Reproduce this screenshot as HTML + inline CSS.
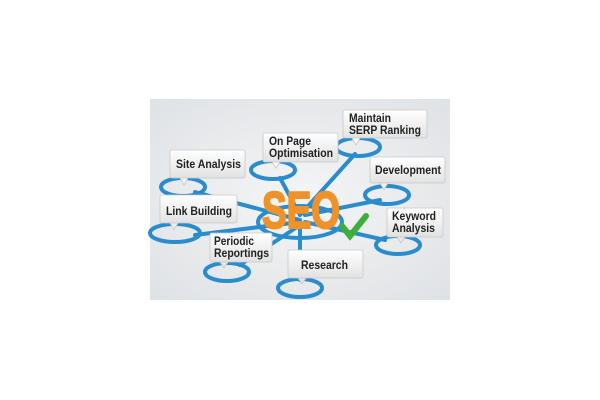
<!DOCTYPE html><html><head><style>body{margin:0;background:#fff}svg{display:block}</style></head><body>
<svg width="600" height="400" viewBox="0 0 600 400" xmlns="http://www.w3.org/2000/svg">
<defs><radialGradient id="bg" cx="0.5" cy="0.5" r="0.7"><stop offset="0" stop-color="#f4f5f6"/><stop offset="1" stop-color="#dfe2e5"/></radialGradient>
<linearGradient id="bx" x1="0" y1="0" x2="0" y2="1"><stop offset="0" stop-color="#ffffff"/><stop offset="1" stop-color="#e2e2e2"/></linearGradient></defs>
<rect x="150" y="99" width="300" height="201" fill="url(#bg)"/>
<g stroke="#2a8ccc" stroke-width="4" fill="none" stroke-linecap="round">
<path d="M300 220 L195 192"/><path d="M300 222 L195 235"/><path d="M300 225 L240 265"/><path d="M300 225 L300 280"/>
<path d="M300 215 L280 178"/><path d="M300 215 L355 154"/><path d="M305 215 L380 200"/><path d="M305 222 L385 240"/>
<ellipse cx="300" cy="222" rx="42" ry="16"/>
<ellipse cx="183" cy="187" rx="22" ry="9"/><ellipse cx="175" cy="233" rx="25" ry="9"/><ellipse cx="227" cy="272" rx="22" ry="9"/>
<ellipse cx="300" cy="288" rx="22" ry="9"/><ellipse cx="273" cy="170" rx="22" ry="9"/><ellipse cx="358" cy="147" rx="22" ry="9"/>
<ellipse cx="387" cy="195" rx="22" ry="9"/><ellipse cx="398" cy="245" rx="22" ry="9"/></g>
<text x="262" y="228" font-family="Liberation Sans, sans-serif" font-weight="bold" font-size="52" fill="#f0922a" stroke="#f0922a" stroke-width="2" textLength="78" lengthAdjust="spacingAndGlyphs">SEO</text>
<path d="M342 226 L350 236 L366 216" stroke="#3cae3c" stroke-width="6" fill="none" stroke-linecap="round"/>
<g fill="url(#bx)" stroke="#c8c8c8" stroke-width="0.8">
<rect x="343" y="110" width="84" height="28" rx="2"/><rect x="263" y="133" width="75" height="29" rx="2"/>
<rect x="170" y="150" width="75" height="28" rx="2"/><rect x="370" y="157" width="75" height="26" rx="2"/>
<rect x="160" y="195" width="77" height="28" rx="2"/><rect x="387" y="208" width="56" height="29" rx="2"/>
<rect x="210" y="233" width="62" height="29" rx="2"/><rect x="288" y="250" width="75" height="28" rx="2"/>
<path d="M352 138 L356 145 L360 138Z M272 162 L276 168 L280 162Z M180 178 L184 185 L188 178Z M380 183 L384 190 L388 183Z M170 223 L174 230 L178 223Z M397 237 L401 243 L405 237Z M220 262 L224 268 L228 262Z M298 278 L302 284 L306 278Z"/></g>
<g font-family="Liberation Sans, sans-serif" font-weight="bold" font-size="12" fill="#222" lengthAdjust="spacingAndGlyphs">
<text x="349" y="122" textLength="42" lengthAdjust="spacingAndGlyphs">Maintain</text><text x="349" y="134" textLength="72" lengthAdjust="spacingAndGlyphs">SERP Ranking</text>
<text x="269" y="145" textLength="42" lengthAdjust="spacingAndGlyphs">On Page</text><text x="269" y="157" textLength="64" lengthAdjust="spacingAndGlyphs">Optimisation</text>
<text x="176" y="168" textLength="65" lengthAdjust="spacingAndGlyphs">Site Analysis</text><text x="375" y="174" textLength="66" lengthAdjust="spacingAndGlyphs">Development</text>
<text x="166" y="215" textLength="66" lengthAdjust="spacingAndGlyphs">Link Building</text>
<text x="392" y="220" textLength="44" lengthAdjust="spacingAndGlyphs">Keyword</text><text x="392" y="232" textLength="43" lengthAdjust="spacingAndGlyphs">Analysis</text>
<text x="214" y="245" textLength="40" lengthAdjust="spacingAndGlyphs">Periodic</text><text x="214" y="257" textLength="55" lengthAdjust="spacingAndGlyphs">Reportings</text>
<text x="301" y="269" textLength="47" lengthAdjust="spacingAndGlyphs">Research</text></g>
</svg></body></html>
